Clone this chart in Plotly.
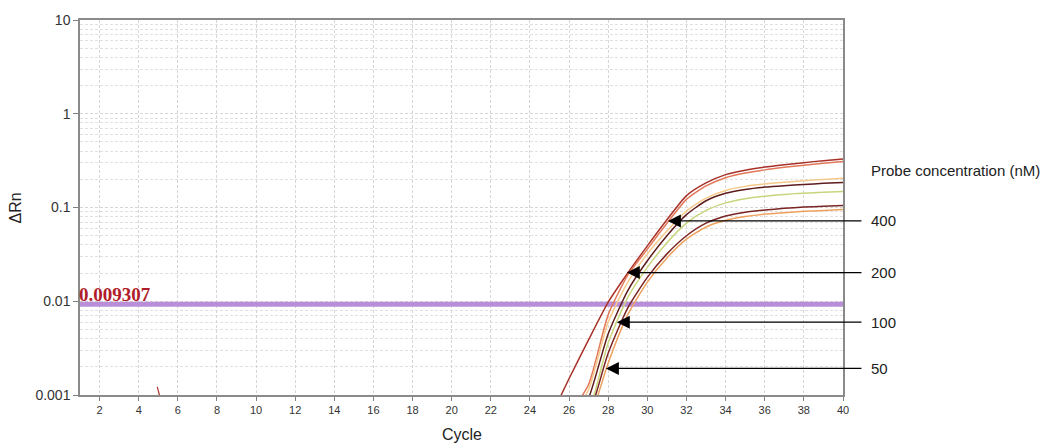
import math
import plotly.graph_objects as go

# Amplification plot: delta Rn (log scale) versus PCR cycle
cycles = list(range(25, 41))

curve_a = [0.00055, 0.0015, 0.0039, 0.0098, 0.020, 0.039, 0.074, 0.134,
           0.183, 0.224, 0.250, 0.270, 0.286, 0.301, 0.316, 0.330]
curve_b = [0.0003, 0.0006, 0.0013, 0.0072, 0.019, 0.036, 0.068, 0.122,
           0.170, 0.208, 0.233, 0.252, 0.268, 0.283, 0.297, 0.310]
curve_c = [0.0002, 0.0005, 0.00115, 0.0060, 0.016, 0.032, 0.056, 0.092,
           0.126, 0.152, 0.168, 0.178, 0.186, 0.193, 0.199, 0.205]
curve_d = [0.0002, 0.0004, 0.00093, 0.0045, 0.013, 0.027, 0.050, 0.084,
           0.118, 0.142, 0.156, 0.165, 0.171, 0.176, 0.181, 0.185]
curve_e = [0.0001, 0.0003, 0.00065, 0.0036, 0.011, 0.023, 0.042, 0.068,
           0.093, 0.112, 0.124, 0.132, 0.138, 0.142, 0.145, 0.148]
curve_f = [0.0001, 0.0003, 0.0006, 0.0028, 0.0085, 0.018, 0.032, 0.050,
           0.068, 0.081, 0.089, 0.094, 0.098, 0.101, 0.103, 0.105]
curve_g = [0.0001, 0.0002, 0.0005, 0.0022, 0.0072, 0.016, 0.029, 0.046,
           0.062, 0.073, 0.080, 0.085, 0.088, 0.091, 0.093, 0.095]

curves = [curve_a, curve_b, curve_c, curve_d, curve_e, curve_f, curve_g]
curve_colors = ["#a8322a", "#e2785a", "#f5c98a", "#5e1c1c",
                "#c9d57d", "#7a2424", "#eea15e"]

# short baseline blip seen early in the run
blip_cycles = [4.95, 5.08]
blip_values = [0.00122, 0.00096]

threshold = 0.009307

# probe concentration labels and where their arrows point on the curves
probe_labels = ["400", "200", "100", "50"]
arrow_cycles = [31.05, 28.95, 28.44, 27.88]
arrow_values = [0.072, 0.0202, 0.00598, 0.00192]

x_ticks = list(range(2, 41, 2))
y_ticks = [0.001, 0.01, 0.1, 1, 10]
y_ticktext = ["0.001", "0.01", "0.1", "1", "10"]

SANS = "Liberation Sans, Arial, sans-serif"
GRID = "#d6d6d6"

fig = go.Figure()

fig.add_trace(go.Scatter(x=[1, 40], y=[threshold, threshold], mode="lines",
                         line=dict(color="#b88ed8", width=5),
                         hoverinfo="skip", showlegend=False))

for vals, col in zip(curves, curve_colors):
    fig.add_trace(go.Scatter(x=cycles, y=vals, mode="lines",
                             line=dict(color=col, width=1.5, shape="spline",
                                       smoothing=0.6),
                             showlegend=False))

fig.add_trace(go.Scatter(x=blip_cycles, y=blip_values, mode="lines",
                         line=dict(color="#a8322a", width=1.2),
                         showlegend=False))

# threshold value printed on the line
fig.add_annotation(x=1, y=math.log10(threshold), xref="x", yref="y",
                   text="<b>0.009307</b>", showarrow=False,
                   xanchor="left", yanchor="bottom", xshift=-3, yshift=-3,
                   font=dict(family="Liberation Serif, Times New Roman, serif",
                             size=19, color="#b01c2a"))

for lab, cx, vy in zip(probe_labels, arrow_cycles, arrow_values):
    fig.add_annotation(x=cx, y=math.log10(vy), xref="x", yref="y",
                       ax=41.02, ay=math.log10(vy), axref="x", ayref="y",
                       text="", showarrow=True, arrowhead=2, arrowsize=2,
                       arrowwidth=1.3, arrowcolor="#000000", standoff=0)
    fig.add_annotation(x=1.0335, y=math.log10(vy), xref="paper", yref="y",
                       text=lab, showarrow=False, xanchor="left",
                       yanchor="middle",
                       font=dict(family=SANS, size=15, color="#222222"))

fig.add_annotation(x=1.0335, y=0.598, xref="paper", yref="paper",
                   text="Probe concentration (nM)", showarrow=False,
                   xanchor="left", yanchor="middle",
                   font=dict(family=SANS, size=15, color="#222222"))

fig.add_annotation(x=-0.084, y=0.5, xref="paper", yref="paper",
                   text="ΔRn", textangle=-90, showarrow=False,
                   xanchor="center", yanchor="middle",
                   font=dict(family=SANS, size=16, color="#222222"))

fig.add_annotation(x=0.5, y=-0.105, xref="paper", yref="paper",
                   text="Cycle", showarrow=False,
                   xanchor="center", yanchor="middle",
                   font=dict(family=SANS, size=16, color="#222222"))

fig.update_xaxes(range=[1, 40], tickmode="array", tickvals=x_ticks,
                 ticks="outside", ticklen=4, tickcolor="#808080",
                 showline=True, linecolor="#8a8a8a", linewidth=1.5,
                 mirror=True, showgrid=True, gridcolor=GRID,
                 griddash="3px,2px", gridwidth=1, zeroline=False,
                 tickfont=dict(family=SANS, size=11, color="#333333"))

fig.update_yaxes(type="log", range=[-3, 1], tickmode="array",
                 tickvals=y_ticks, ticktext=y_ticktext,
                 ticks="outside", ticklen=5, tickcolor="#808080",
                 showline=True, linecolor="#8a8a8a", linewidth=1.5,
                 mirror=True, showgrid=True, gridcolor=GRID,
                 griddash="3px,2px", gridwidth=1, zeroline=False,
                 minor=dict(tickmode="array",
                            tickvals=[m * 10 ** e for e in range(-3, 1)
                                      for m in range(2, 10)],
                            showgrid=True, gridcolor="#e0e0e0",
                            griddash="3px,2px", ticklen=0),
                 tickfont=dict(family=SANS, size=14, color="#333333"))

fig.update_layout(width=1043, height=446,
                  margin=dict(l=80, r=200, t=14, b=51),
                  paper_bgcolor="white", plot_bgcolor="white",
                  showlegend=False)

fig.write_html("out.html")
